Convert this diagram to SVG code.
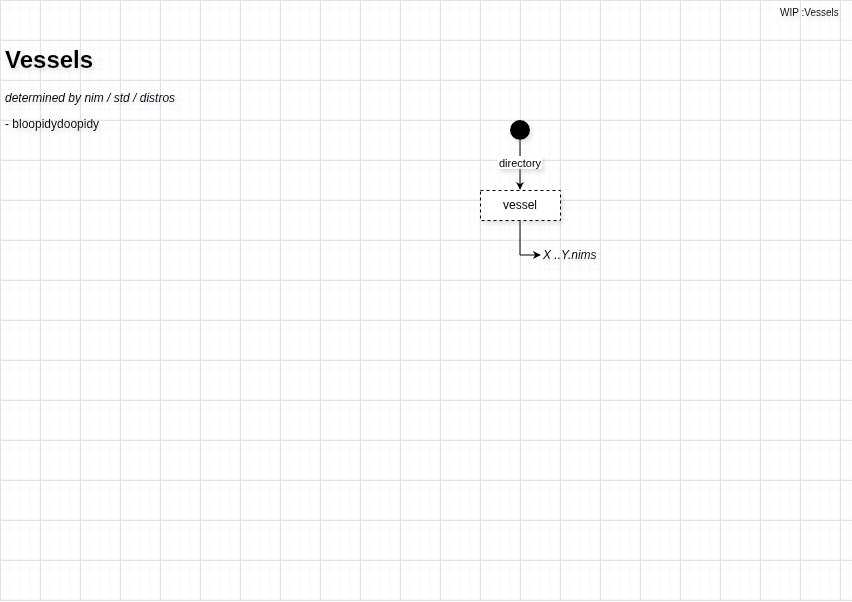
<svg xmlns="http://www.w3.org/2000/svg" width="852" height="602" viewBox="0 0 852 602">
<defs>
<pattern id="minor" width="10" height="10" patternUnits="userSpaceOnUse"><path d="M10 0V10M0 10H10" fill="none" stroke="#f3f3f3" stroke-width="1"/></pattern>
<pattern id="major" width="40" height="40" patternUnits="userSpaceOnUse"><rect width="40" height="40" fill="url(#minor)"/><path d="M0.5 0V40M0 0.5H40" fill="none" stroke="#e2e2e2" stroke-width="1"/></pattern>
<filter id="sh" x="-20%" y="-20%" width="140%" height="160%"><feGaussianBlur in="SourceAlpha" stdDeviation="2"/><feOffset dx="2" dy="3" result="b"/><feColorMatrix type="matrix" values="0 0 0 0 0.3  0 0 0 0 0.3  0 0 0 0 0.45  0 0 0 0.3 0"/><feMerge><feMergeNode/><feMergeNode in="SourceGraphic"/></feMerge></filter>
<marker id="arr" viewBox="0 0 10 10" refX="9" refY="5" markerWidth="8" markerHeight="8" orient="auto" markerUnits="userSpaceOnUse"><path d="M0 0L10 5L0 10L3 5Z" fill="#000"/></marker>
<style>
text{font-family:"Liberation Sans",Arial,sans-serif;fill:#000}
.lbl{font-size:12px}
.sm{font-size:11px}
.it{font-style:italic}
.edge{fill:none;stroke:#000;stroke-width:1}
</style>
</defs>
<rect width="852" height="602" fill="#fff"/>
<rect x="0" y="0" width="852" height="601" fill="url(#major)"/>
<g id="title" filter="url(#sh)"><text x="5" y="68" font-size="24" font-weight="bold">Vessels</text></g>
<g id="subtitle" filter="url(#sh)"><text class="lbl it" x="5" y="102">determined by nim / std / distros</text></g>
<g id="note" filter="url(#sh)"><text class="lbl" x="5" y="128">- bloopidydoopidy</text></g>
<g id="wip" filter="url(#sh)"><text x="780" y="16" font-size="10">WIP :Vessels</text></g>
<g id="connectors">
<path class="edge" d="M520 140V189" marker-end="url(#arr)"/>
<g filter="url(#sh)"><rect x="498" y="156" width="44" height="13" fill="#fff"/><text class="sm" x="520" y="167" text-anchor="middle">directory</text></g>
<path class="edge" d="M520 220V255H540" marker-end="url(#arr)"/>
</g>
<g id="start" filter="url(#sh)"><circle cx="520" cy="130" r="10" fill="#000"/></g>
<g id="vessel" filter="url(#sh)"><rect x="480.5" y="190.5" width="80" height="30" fill="#fff" stroke="#000" stroke-dasharray="3 3"/><text class="lbl" x="520" y="209" text-anchor="middle">vessel</text></g>
<g id="nims" filter="url(#sh)"><text class="lbl it" x="543" y="259">X ..Y.nims</text></g>
</svg>
